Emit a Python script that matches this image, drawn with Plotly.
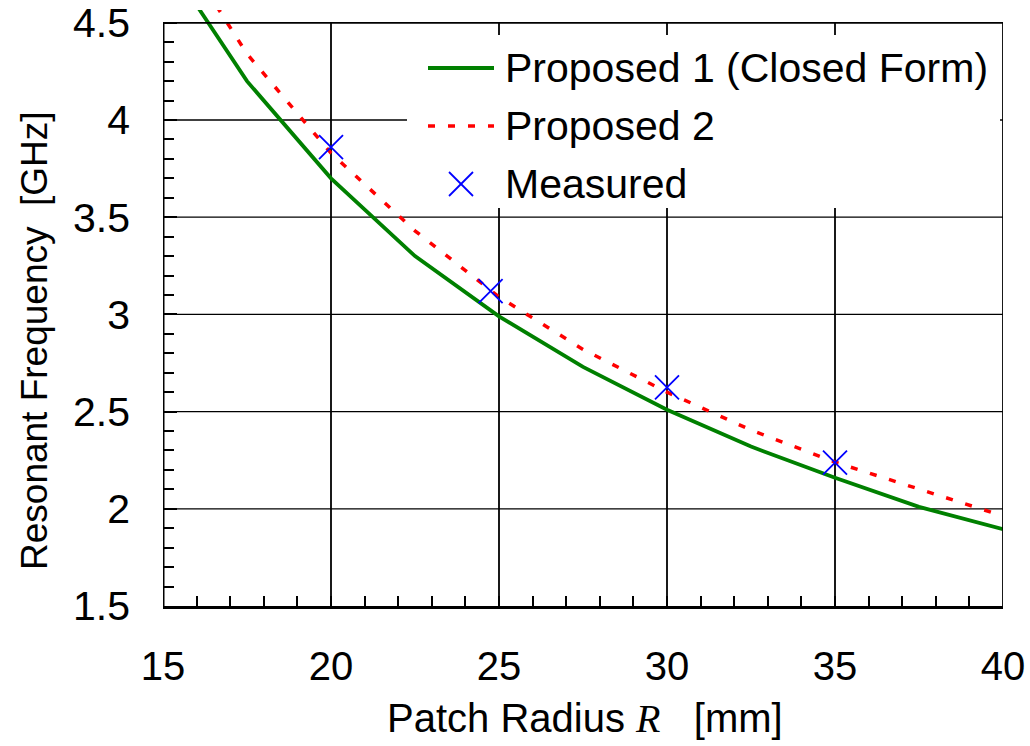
import plotly.graph_objects as go

# Patch radius grid for the two computed models [mm]
R_model = [15, 17.5, 20, 22.5, 25, 27.5, 30, 32.5, 35, 37.5, 40]
# Proposed 1 (closed form) resonant frequency [GHz]
f_closed = [4.85, 4.20, 3.70, 3.30, 2.99, 2.73, 2.51, 2.32, 2.16, 2.01, 1.895]
# Proposed 2 resonant frequency [GHz]
f_prop2 = [5.02, 4.34, 3.83, 3.43, 3.09, 2.82, 2.60, 2.405, 2.24, 2.10, 1.963]
# Measured prototypes
R_meas = [20, 24.75, 30, 35]
f_meas = [3.86, 3.12, 2.625, 2.237]

x_ticks = [15, 20, 25, 30, 35, 40]
y_ticks = [1.5, 2, 2.5, 3, 3.5, 4, 4.5]
x_minor = [v for v in range(16, 40) if v % 5 != 0]
y_minor = [round(1.5 + 0.1 * i, 1) for i in range(1, 30) if i % 5 != 0]

labels = ["Proposed 1 (Closed Form)", "Proposed 2", "Measured"]
x_title = ("Patch Radius <span style=\"font-family:'Liberation Serif',serif;"
           "font-style:italic\">R</span>\u00a0\u00a0\u00a0[mm]")
y_title = "Resonant Frequency\u00a0\u00a0[GHz]"

FONT = "Liberation Sans, Arial, sans-serif"
W, H = 1030, 746
ML, MR, MT, MB = 163, 27, 10, 140
X0, X1 = 15, 40
Y0, YF = 1.5, 4.5
PX_PER_X = (W - ML - MR) / (X1 - X0)
PX_PER_Y = 194.4
Y1 = YF + 12.8 / PX_PER_Y  # small headroom above the frame where curves run on

GREEN = "#008000"
RED = "#ff0000"
BLUE = "#0000ff"

fig = go.Figure()
fig.add_trace(go.Scatter(x=R_model, y=f_closed, mode="lines", name=labels[0],
                         line=dict(color=GREEN, width=3.8)))
fig.add_trace(go.Scatter(x=R_model, y=f_prop2, mode="lines", name=labels[1],
                         line=dict(color=RED, width=3.5, dash="7px,13px")))
fig.add_trace(go.Scatter(x=R_meas, y=f_meas, mode="markers", name=labels[2],
                         marker=dict(symbol="x-thin", size=24, color=BLUE,
                                     line=dict(color=BLUE, width=1.8))))


# pixel position -> data coordinates, used for the legend block
def dx(p):
    return X0 + (p - ML) / PX_PER_X


def dy(p):
    return Y1 - (p - MT) / PX_PER_Y


# pixel position -> paper coordinates, used for the axis titles
def px(p):
    return (p - ML) / (W - ML - MR)


def py(p):
    return (H - MB - p) / (H - MT - MB)


shapes = []
# grid lines, kept inside the frame
for xv in x_ticks[1:-1]:
    shapes.append(dict(type="line", xref="x", yref="y", x0=xv, x1=xv, y0=Y0, y1=YF,
                       line=dict(color="black", width=1.8), layer="below"))
for yv in y_ticks[1:-1]:
    shapes.append(dict(type="line", xref="x", yref="y", x0=X0, x1=X1, y0=yv, y1=yv,
                       line=dict(color="black", width=1.3), layer="below"))

# legend box covers the grid
shapes.append(dict(type="rect", xref="x", yref="y",
                   x0=dx(407), x1=dx(1000), y0=dy(208), y1=dy(35),
                   fillcolor="white", line=dict(width=0), layer="below"))

# frame
shapes.append(dict(type="line", xref="x", yref="y", x0=X0, x1=X0, y0=Y0, y1=YF,
                   line=dict(color="black", width=3)))
shapes.append(dict(type="line", xref="x", yref="y", x0=X0, x1=X1, y0=YF, y1=YF,
                   line=dict(color="black", width=1.8)))
shapes.append(dict(type="line", xref="x", yref="y", x0=X1, x1=X1, y0=Y0, y1=YF,
                   line=dict(color="black", width=1.8)))

row_y = [68, 126, 184]
shapes.append(dict(type="line", xref="x", yref="y", x0=dx(428), x1=dx(494),
                   y0=dy(row_y[0]), y1=dy(row_y[0]), line=dict(color=GREEN, width=3.8)))
shapes.append(dict(type="line", xref="x", yref="y", x0=dx(428), x1=dx(494),
                   y0=dy(row_y[1]), y1=dy(row_y[1]),
                   line=dict(color=RED, width=3.5, dash="7px,13px")))
cx, cy, hs = 461, row_y[2], 12
shapes.append(dict(type="line", xref="x", yref="y", x0=dx(cx - hs), x1=dx(cx + hs),
                   y0=dy(cy - hs), y1=dy(cy + hs), line=dict(color=BLUE, width=1.8)))
shapes.append(dict(type="line", xref="x", yref="y", x0=dx(cx - hs), x1=dx(cx + hs),
                   y0=dy(cy + hs), y1=dy(cy - hs), line=dict(color=BLUE, width=1.8)))

annotations = []
for lab, ry in zip(labels, row_y):
    annotations.append(dict(text=lab, xref="x", yref="y", x=dx(503), y=dy(ry),
                            xanchor="left", yanchor="middle", showarrow=False,
                            font=dict(family=FONT, size=41, color="black")))

# axis titles
annotations.append(dict(text=x_title, xref="paper", yref="paper", x=px(585), y=py(718),
                        xanchor="center", yanchor="middle", showarrow=False,
                        font=dict(family=FONT, size=40, color="black")))
annotations.append(dict(text=y_title, xref="paper", yref="paper", x=px(35), y=py(341),
                        xanchor="center", yanchor="middle", showarrow=False, textangle=-90,
                        font=dict(family=FONT, size=37, color="black")))

fig.update_layout(
    width=W, height=H,
    margin=dict(l=ML, r=MR, t=MT, b=MB),
    paper_bgcolor="white", plot_bgcolor="white",
    showlegend=False,
    shapes=shapes,
    annotations=annotations,
    font=dict(family=FONT, size=40, color="black"),
)

fig.update_xaxes(
    range=[X0, X1], tickmode="array", tickvals=x_ticks,
    ticks="inside", ticklen=10, tickwidth=2, tickcolor="black",
    ticklabelstandoff=23, automargin=False,
    minor=dict(tickmode="array", tickvals=x_minor, ticks="inside",
               ticklen=10, tickwidth=2, tickcolor="black", showgrid=False),
    showgrid=False, zeroline=False,
    showline=True, linecolor="black", linewidth=3,
    tickfont=dict(family=FONT, size=40),
)
fig.update_yaxes(
    range=[Y0, Y1], tickmode="array", tickvals=y_ticks,
    ticktext=[f"{v:g}" for v in y_ticks],
    ticks="inside", ticklen=14, tickwidth=2, tickcolor="black",
    ticklabelstandoff=32, automargin=False,
    minor=dict(tickmode="array", tickvals=y_minor, ticks="inside",
               ticklen=11, tickwidth=2, tickcolor="black", showgrid=False),
    showgrid=False, zeroline=False, showline=False,
    tickfont=dict(family=FONT, size=41),
)

fig.write_html("out.html")
